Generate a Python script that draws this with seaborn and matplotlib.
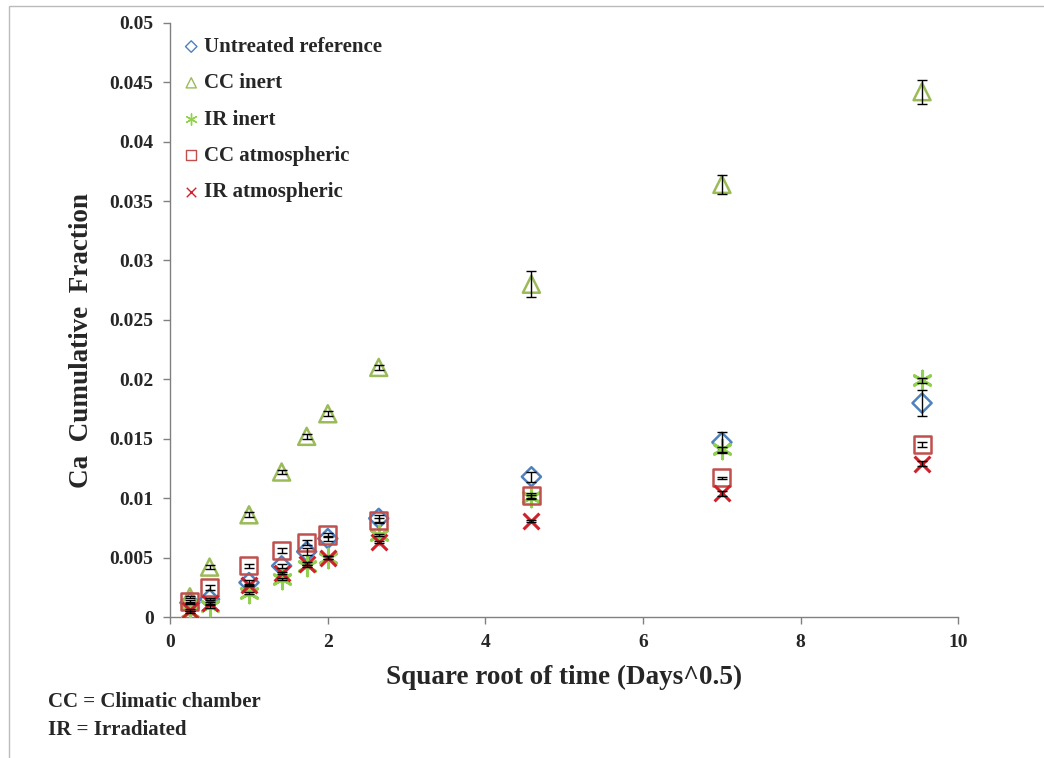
import numpy as np
import pandas as pd
import matplotlib.pyplot as plt
import seaborn as sns
from matplotlib.patches import Rectangle

# square root of time (days^0.5)
sqrt_t = [0.25, 0.5, 1.0, 1.414, 1.732, 2.0, 2.646, 4.583, 7.0, 9.539]

untreated = [0.0012, 0.0015, 0.0029, 0.0043, 0.0055, 0.0066, 0.0083, 0.0118, 0.0147, 0.0180]
cc_inert = [0.0017, 0.0042, 0.0086, 0.0122, 0.0152, 0.0171, 0.0210, 0.0280, 0.0364, 0.0442]
ir_inert = [0.0004, 0.0009, 0.0020, 0.0032, 0.0043, 0.0050, 0.0069, 0.0101, 0.0141, 0.0199]
cc_atmo = [0.0013, 0.0025, 0.0043, 0.0056, 0.0063, 0.0069, 0.0081, 0.0102, 0.0117, 0.0145]
ir_atmo = [0.0006, 0.0012, 0.0027, 0.0037, 0.0045, 0.0050, 0.0063, 0.0081, 0.0104, 0.0129]

untreated_err = [0.0001, 0.0001, 0.0002, 0.0002, 0.0003, 0.0002, 0.0003, 0.0004, 0.0009, 0.0011]
cc_inert_err = [0.0001, 0.0002, 0.0002, 0.0002, 0.0002, 0.0002, 0.0002, 0.0011, 0.0008, 0.0010]
ir_inert_err = [0.0001, 0.0001, 0.0001, 0.0001, 0.0001, 0.0001, 0.0001, 0.0002, 0.0002, 0.0002]
cc_atmo_err = [0.0001, 0.0002, 0.0002, 0.0002, 0.0002, 0.0002, 0.0002, 0.0002, 0.0001, 0.0002]
ir_atmo_err = [0.0001, 0.0001, 0.0001, 0.0001, 0.0001, 0.0001, 0.0001, 0.0001, 0.0002, 0.0002]

series_names = ['Untreated reference', 'CC inert', 'IR inert', 'CC atmospheric', 'IR atmospheric']
y_ticks = [0, 0.005, 0.01, 0.015, 0.02, 0.025, 0.03, 0.035, 0.04, 0.045, 0.05]
y_tick_labels = ['0', '0.005', '0.01', '0.015', '0.02', '0.025', '0.03', '0.035', '0.04', '0.045', '0.05']
x_ticks = [0, 2, 4, 6, 8, 10]


def main():
    sns.set_theme(style="white")
    plt.rcParams['font.family'] = ['Liberation Serif', 'DejaVu Serif']
    plt.rcParams['font.weight'] = 'bold'

    values = [untreated, cc_inert, ir_inert, cc_atmo, ir_atmo]
    errors = [untreated_err, cc_inert_err, ir_inert_err, cc_atmo_err, ir_atmo_err]
    df = pd.concat([
        pd.DataFrame({'x': sqrt_t, 'y': v, 'err': e, 'series': n})
        for n, v, e in zip(series_names, values, errors)
    ], ignore_index=True)

    colors = {'Untreated reference': '#4F81BD', 'CC inert': '#9BBB59',
              'IR inert': '#92D050', 'CC atmospheric': '#C0504D',
              'IR atmospheric': '#D0202A'}
    markers = {'Untreated reference': 'D', 'CC inert': '^', 'IR inert': (6, 2, 0),
               'CC atmospheric': 's', 'IR atmospheric': 'x'}
    sizes = {'Untreated reference': 95, 'CC inert': 150, 'IR inert': 180,
             'CC atmospheric': 150, 'IR atmospheric': 130}
    filled = {'D', '^', 's'}

    fig = plt.figure(figsize=(10.44, 7.58), dpi=100)
    ax = fig.add_axes([0.163, 0.186, 0.755, 0.784])

    for name in series_names:
        sub = df[df['series'] == name]
        m = markers[name]
        if m in filled:
            sns.scatterplot(data=sub, x='x', y='y', ax=ax, marker=m, s=sizes[name],
                            facecolor='none', edgecolor=colors[name], linewidth=1.8,
                            label=name, zorder=3)
        else:
            sns.scatterplot(data=sub, x='x', y='y', ax=ax, marker=m, s=sizes[name],
                            color=colors[name], linewidth=2.2, label=name, zorder=3)
        ax.errorbar(sub['x'], sub['y'], yerr=sub['err'], fmt='none', ecolor='black',
                    elinewidth=1.0, capsize=3.5, capthick=1.0, zorder=4)

    ax.set_xlim(0, 10)
    ax.set_ylim(0, 0.05)
    ax.set_xticks(x_ticks)
    ax.set_xticklabels([str(t) for t in x_ticks])
    ax.set_yticks(y_ticks)
    ax.set_yticklabels(y_tick_labels)
    ax.tick_params(axis='both', labelsize=14, direction='out', length=5, width=1,
                   color='#808080', bottom=True, left=True, pad=7)
    for lab in ax.get_xticklabels() + ax.get_yticklabels():
        lab.set_fontweight('bold')

    for side in ['top', 'right']:
        ax.spines[side].set_visible(False)
    for side in ['left', 'bottom']:
        ax.spines[side].set_color('#808080')
        ax.spines[side].set_linewidth(1)

    ax.set_xlabel('Square root of time (Days^0.5)', fontsize=19.5, fontweight='bold', labelpad=10)
    ax.set_ylabel('Ca  Cumulative  Fraction', fontsize=19.5, fontweight='bold')
    ax.yaxis.set_label_coords(-0.097, 0.465)

    leg = ax.legend(loc='upper left', frameon=False, markerscale=0.6,
                    handletextpad=-0.2, labelspacing=0.78, borderaxespad=0.0,
                    handlelength=1.6, bbox_to_anchor=(-0.005, 0.99),
                    prop={'weight': 'bold', 'size': 15})
    for h in leg.legend_handles:
        h.set_linewidth(1.0)

    fig.text(0.046, 0.067, 'CC = Climatic chamber', fontsize=15, fontweight='bold')
    fig.text(0.046, 0.031, 'IR = Irradiated', fontsize=15, fontweight='bold')

    fig.patches.append(Rectangle((0.009, -0.01), 1.0, 1.002, transform=fig.transFigure,
                                 fill=False, edgecolor='#BBBBBB', linewidth=1))

    fig.savefig('out.png', dpi=100)


if __name__ == "__main__":
    main()
